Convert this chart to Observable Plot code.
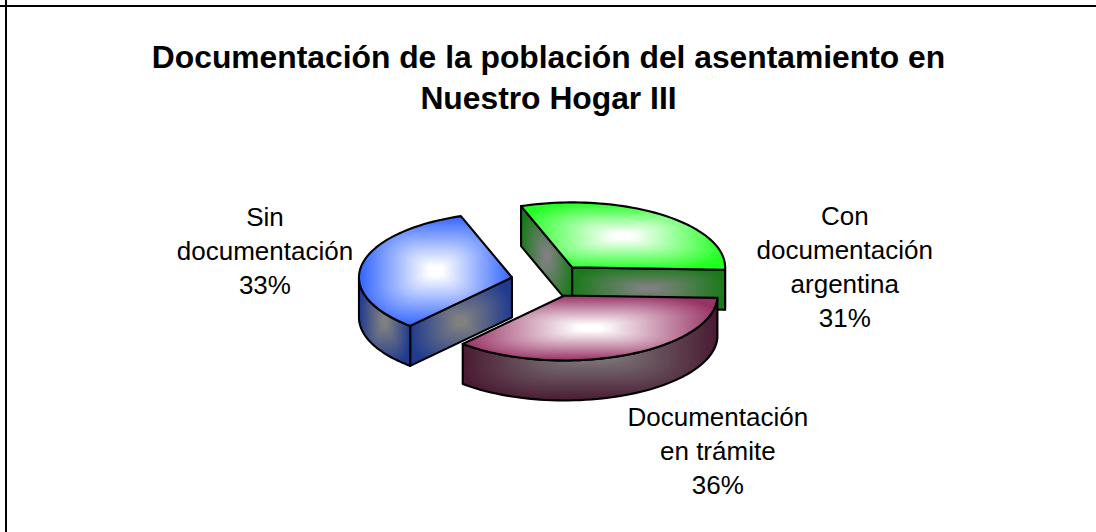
<!DOCTYPE html>
<html><head><meta charset="utf-8">
<script src="https://cdn.jsdelivr.net/npm/d3@7"></script>
<script src="https://cdn.jsdelivr.net/npm/@observablehq/plot@0.6"></script>
<style>html,body{margin:0;padding:0;background:#fff}svg{display:block}</style>
</head><body><div id="chart"></div>
<script>
const categories = ["Con documentación argentina", "Documentación en trámite", "Sin documentación"];
const percents = [31, 36, 33];
const labelLines = ["Con\ndocumentación\nargentina\n31%", "Documentación\nen trámite\n36%", "Sin\ndocumentación\n33%"];
const title = "Documentación de la población del asentamiento en\nNuestro Hogar III";

// layout, in pie-radius units
const startDeg = 250.5, explode = 0.25, depth = 40 / 65;
const labelAt = [[1.93, -0.23], [1.1, 2.59], [-1.86, -0.49]];
const faceColors = ["#22ff22", "#993366", "#3366ff"];
const edgeColors = ["#1a7a1a", "#4a1c33", "#1f3a8f"];

const total = d3.sum(percents);
let a0 = startDeg * Math.PI / 180;
const slices = percents.map((v, i) => {
  const a1 = a0 + v / total * 2 * Math.PI;
  const mid = (a0 + a1) / 2;
  const s = {i, a0, a1, ox: explode * Math.cos(mid), oy: explode * Math.sin(mid)};
  a0 = a1;
  return s;
});
const arcPts = (s, from, to) => d3.range(61).map(k => {
  const t = from + (to - from) * k / 60;
  return [s.ox + Math.cos(t), s.oy + Math.sin(t)];
});
const topFace = s => [[s.ox, s.oy], ...arcPts(s, s.a0, s.a1), [s.ox, s.oy]];
const drop = ([x, y]) => [x, y + depth];
const band = pts => [...pts, ...pts.slice().reverse().map(drop), pts[0]];

const solid = (pts, fill) => Plot.line(pts, {x: "0", y: "1", fill, stroke: "black", strokeWidth: 2.1, strokeLinejoin: "round", curve: "linear"});

function sliceMarks(s) {
  const c = `url(#side${s.i})`;
  const apex = [s.ox, s.oy];
  const start = [s.ox + Math.cos(s.a0), s.oy + Math.sin(s.a0)];
  const end = [s.ox + Math.cos(s.a1), s.oy + Math.sin(s.a1)];
  const parts = [];
  // a cut face shows only when it turns toward the viewer
  if (Math.cos(s.a0) < 0) parts.push(solid(band([apex, start]), c));
  if (Math.cos(s.a1) > 0) parts.push(solid(band([apex, end]), c));
  // the rim shows on the front half of the ellipse
  const lo = Math.max(s.a0, 2 * Math.PI), hi = Math.min(s.a1, 3 * Math.PI);
  if (lo < hi) parts.push(solid(band(arcPts(s, lo, hi)), c));
  parts.push(solid(topFace(s), `url(#top${s.i})`));
  return parts;
}

// soft "path" gradients: nested rounded boxes from the outer colour to the inner one
const defsMark = () => {
  const ns = "http://www.w3.org/2000/svg";
  const defs = document.createElementNS(ns, "defs");
  const boxGrad = (id, inner, outer) => {
    const p = document.createElementNS(ns, "pattern");
    p.setAttribute("id", id);
    p.setAttribute("patternUnits", "objectBoundingBox");
    p.setAttribute("patternContentUnits", "objectBoundingBox");
    p.setAttribute("width", 1); p.setAttribute("height", 1);
    const mix = d3.interpolateRgb(outer, inner);
    const bg = document.createElementNS(ns, "rect");
    bg.setAttribute("width", 1); bg.setAttribute("height", 1); bg.setAttribute("fill", outer);
    p.appendChild(bg);
    const n = 48;
    for (let k = 0; k < n; k++) {
      const f = k / n, r = document.createElementNS(ns, "rect");
      r.setAttribute("x", f / 2); r.setAttribute("y", f / 2);
      r.setAttribute("width", 1 - f); r.setAttribute("height", 1 - f);
      r.setAttribute("rx", (1 - f) * 0.3); r.setAttribute("ry", (1 - f) * 0.3);
      r.setAttribute("fill", mix(Math.min(1, f / 0.9)));
      p.appendChild(r);
    }
    defs.appendChild(p);
  };
  faceColors.forEach((c, i) => boxGrad(`top${i}`, "#ffffff", c));
  edgeColors.forEach((c, i) => boxGrad(`side${i}`, "#808080", c));
  return defs;
};

const [s0, s1, s2] = slices;
const labelData = labelLines.map((t, i) => ({t, x: labelAt[i][0], y: labelAt[i][1], c: categories[i], v: percents[i]}));

const chart = Plot.plot({
  width: 1096, height: 532, margin: 0, style: {background: "#fff", color: "#000"},
  x: {domain: [-1, 1], range: [549 - 153, 549 + 153], axis: null},
  y: {domain: [-1, 1], range: [280 - 65, 280 + 65], axis: null},
  marks: [
    defsMark,
    Plot.frame({anchor: "top", stroke: "black", strokeWidth: 2, dy: 5.5, clip: false}),
    Plot.frame({anchor: "left", stroke: "black", strokeWidth: 2, dx: 5.5, clip: false}),
    ...sliceMarks(s2),
    ...sliceMarks(s0),
    ...sliceMarks(s1),
    Plot.text(labelData, {x: "x", y: "y", text: "t", fontSize: 26, lineHeight: 34 / 26, fontFamily: "Liberation Sans", fill: "black", textAnchor: "middle"}),
    Plot.text([title], {frameAnchor: "top", dx: 0, dy: 38, fontSize: 31.8, fontWeight: "bold", lineHeight: 41 / 31.8, fontFamily: "Liberation Sans", fill: "black", lineAnchor: "top"})
  ]
});
document.getElementById("chart").appendChild(chart);
</script></body></html>
